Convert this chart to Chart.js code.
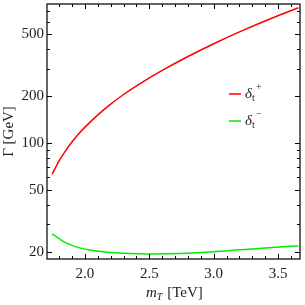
<!DOCTYPE html>
<html><head><meta charset="utf-8">
<script src="https://cdn.jsdelivr.net/npm/chart.js@4"></script>
<style>html,body{margin:0;padding:0;background:#fff}#wrap{width:305px;height:305px}</style>
</head><body><div id="wrap"><canvas id="c" width="305" height="305"></canvas></div>
<script>
const massPlus = [1.745, 1.8, 1.85, 1.9, 1.95, 2.0, 2.1, 2.2, 2.3, 2.45, 2.6, 2.8, 3.0, 3.2, 3.45, 3.657];
const widthPlus = [63.0, 76.9, 89.3, 101.6, 113.9, 126.2, 151.4, 177.4, 204.4, 246.4, 291.7, 358.1, 432.5, 515.2, 630.4, 736.2];
const massMinus = [1.745, 1.8, 1.85, 1.9, 1.95, 2.05, 2.2, 2.35, 2.5, 2.65, 2.8, 3.0, 3.2, 3.4, 3.657];
const widthMinus = [26.1, 24.3, 22.9, 22.0, 21.3, 20.5, 19.8, 19.5, 19.4, 19.45, 19.6, 20.0, 20.6, 21.2, 21.9];
const xTicks = [2.0, 2.5, 3.0, 3.5];
const yTicks = [20, 50, 100, 200, 500];
const xMinorTicks = [1.8,1.9,2.1,2.2,2.3,2.4,2.6,2.7,2.8,2.9,3.1,3.2,3.3,3.4,3.6];
const yMinorTicks = [30,40,60,70,80,90,300,400,600,700];
const seriesNames = ['+', '\u2212'];
const seriesColors = ['#ff0000', '#00ee00'];

const serif = "'Liberation Serif', 'DejaVu Serif', serif";

const framePlugin = {
  id: 'frame',
  afterDraw(chart) {
    const ctx = chart.ctx, a = chart.chartArea;
    const xs = chart.scales.x, ys = chart.scales.y;
    ctx.save();
    ctx.strokeStyle = '#000';
    ctx.lineWidth = 1.2;
    ctx.strokeRect(a.left, a.top, a.right - a.left, a.bottom - a.top);
    ctx.lineWidth = 1;
    ctx.beginPath();
    const tx = (v, len) => { const p = Math.round(xs.getPixelForValue(v)) + 0.5;
      ctx.moveTo(p, a.bottom); ctx.lineTo(p, a.bottom - len);
      ctx.moveTo(p, a.top); ctx.lineTo(p, a.top + len); };
    const ty = (v, len) => { const p = Math.round(ys.getPixelForValue(v)) + 0.5;
      ctx.moveTo(a.left, p); ctx.lineTo(a.left + len, p);
      ctx.moveTo(a.right, p); ctx.lineTo(a.right - len, p); };
    xTicks.forEach(v => tx(v, 5));
    xMinorTicks.forEach(v => tx(v, 3));
    yTicks.forEach(v => ty(v, 5));
    yMinorTicks.forEach(v => ty(v, 3));
    ctx.stroke();
    // legend
    const lx = a.left + 182, ly0 = a.top + 90, gap = 27;
    chart.data.datasets.forEach((ds, i) => {
      const y = ly0 + i * gap;
      ctx.strokeStyle = ds.borderColor; ctx.lineWidth = 1.5;
      ctx.beginPath(); ctx.moveTo(lx, y); ctx.lineTo(lx + 12, y); ctx.stroke();
      ctx.fillStyle = '#222';
      ctx.textBaseline = 'alphabetic';
      ctx.textAlign = 'left';
      ctx.font = "italic 15px " + serif;
      ctx.fillText('\u03b4', lx + 16, y + 4);
      ctx.font = "10px " + serif;
      ctx.fillText('t', lx + 23, y + 7);
      ctx.fillText(seriesNames[i], lx + 27, y - 4);
    });
    // x axis title
    ctx.fillStyle = '#222';
    ctx.textBaseline = 'alphabetic';
    ctx.textAlign = 'left';
    let x = 146; const by = 297;
    ctx.font = "italic 15px " + serif;
    ctx.fillText('m', x, by); x += ctx.measureText('m').width;
    ctx.font = "italic 10px " + serif;
    ctx.fillText('T', x, by + 3); x += ctx.measureText('T').width + 1;
    ctx.font = "15px " + serif;
    ctx.fillText(' [TeV]', x, by);
    ctx.restore();
  }
};

new Chart(document.getElementById('c'), {
  type: 'line',
  data: {
    datasets: [
      { label: '\u03b4t+', data: massPlus.map((x, i) => ({x, y: widthPlus[i]})), borderColor: seriesColors[0], borderWidth: 1.5, pointRadius: 0, cubicInterpolationMode: 'monotone', fill: false },
      { label: '\u03b4t\u2212', data: massMinus.map((x, i) => ({x, y: widthMinus[i]})), borderColor: seriesColors[1], borderWidth: 1.5, pointRadius: 0, cubicInterpolationMode: 'monotone', fill: false }
    ]
  },
  options: {
    responsive: false, animation: false, devicePixelRatio: 1,
    layout: { padding: { left: 0, right: 5, top: 4, bottom: 0 } },
    plugins: { legend: { display: false }, tooltip: { enabled: false } },
    scales: {
      x: {
        type: 'linear', min: 1.705, max: 3.67,
        afterBuildTicks: s => { s.ticks = xTicks.map(v => ({value: v})); },
        afterFit: s => { s.height = 46; },
        grid: { display: false, drawTicks: false }, border: { display: false },
        ticks: { color: '#222', font: { family: serif, size: 15 }, padding: 6, maxRotation: 0, callback: v => v.toFixed(1) },
        title: { display: false }
      },
      y: {
        type: 'logarithmic', min: 18, max: 778,
        afterBuildTicks: s => { s.ticks = yTicks.map(v => ({value: v})); },
        afterFit: s => { s.width = 47; },
        grid: { display: false, drawTicks: false }, border: { display: false },
        ticks: { color: '#222', font: { family: serif, size: 15, lineHeight: 0.05 }, padding: 3, callback: v => String(v) },
        title: { display: true, text: '\u0393 [GeV]', color: '#222', font: { family: serif, size: 15 }, padding: { top: 0, bottom: 0 } }
      }
    }
  },
  plugins: [framePlugin]
});
</script></body></html>
